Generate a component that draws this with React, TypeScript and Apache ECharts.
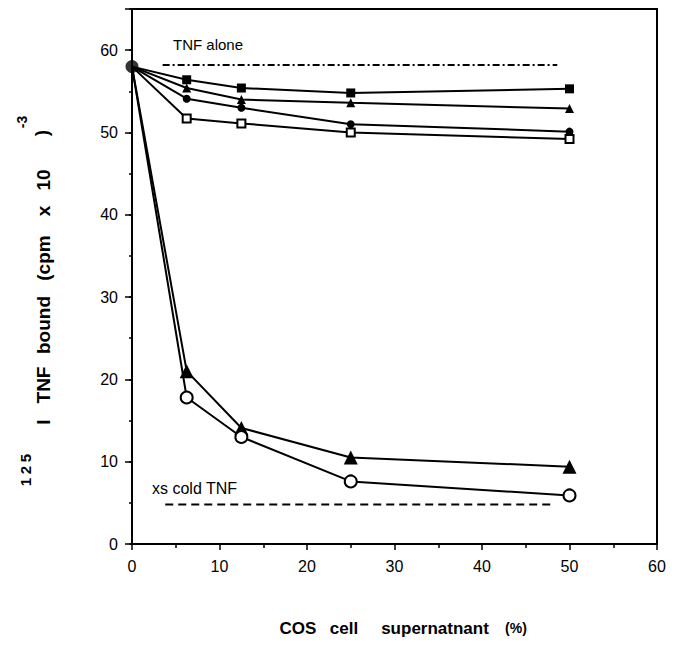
import React, { useEffect, useRef } from "react";
import * as echarts from "echarts";

const X_VALUES = [0, 6.25, 12.5, 25, 50];
const FILLED_SQUARE = [58, 56.4, 55.4, 54.8, 55.3];
const SMALL_TRIANGLE = [58, 55.4, 54.0, 53.6, 52.9];
const FILLED_CIRCLE = [58, 54.1, 53.0, 51.0, 50.1];
const OPEN_SQUARE = [58, 51.7, 51.1, 50.0, 49.2];
const BIG_TRIANGLE = [58, 21.0, 14.1, 10.5, 9.4];
const OPEN_CIRCLE = [58, 17.8, 13.0, 7.6, 5.9];
const TNF_ALONE = [[3.5, 58.2], [48.6, 58.2]];
const XS_COLD = [[3.8, 4.8], [48.2, 4.8]];
const X_TICKS = [0, 10, 20, 30, 40, 50, 60];
const Y_TICKS = [0, 10, 20, 30, 40, 50, 60];

const FONT = "'Liberation Sans', Arial, Helvetica, sans-serif";

export default function App() {
  const ref = useRef<HTMLDivElement>(null);
  useEffect(() => {
    if (!ref.current) return;
    const chart = echarts.init(ref.current, null, { renderer: "svg" });

    const mk = (ys: number[], symbol: string, size: number, open: boolean, name: string) => ({
      type: "line",
      name,
      data: X_VALUES.map((x, i) =>
        i === 0 ? { value: [x, ys[i]], symbol: "none" } : { value: [x, ys[i]] }
      ),
      symbol,
      symbolSize: size,
      showSymbol: true,
      lineStyle: { color: "#000", width: 2 },
      itemStyle: open
        ? { color: "#fff", borderColor: "#000", borderWidth: 2 }
        : { color: "#000", borderColor: "#000", borderWidth: 0 },
      z: 3,
    });

    const yWord = (text: string, cy: number, x = 43, size = 19) => ({
      type: "text",
      x,
      y: cy,
      rotation: Math.PI / 2,
      style: {
        text,
        font: `bold ${size}px ${FONT}`,
        fill: "#000",
        align: "center",
        verticalAlign: "middle",
      },
    });
    const xWord = (text: string, cx: number, size = 17) => ({
      type: "text",
      x: cx,
      y: 628,
      style: {
        text,
        font: `bold ${size}px ${FONT}`,
        fill: "#000",
        align: "center",
        verticalAlign: "middle",
      },
    });

    chart.setOption({
      animation: false,
      backgroundColor: "#fff",
      grid: {
        left: 132,
        right: 27,
        top: 9,
        bottom: 101,
        show: true,
        borderColor: "#000",
        borderWidth: 2,
      },
      xAxis: {
        type: "value",
        min: 0,
        max: 60,
        interval: 10,
        axisLine: { show: true, lineStyle: { color: "#000", width: 2 } },
        axisTick: { show: true, length: 6, lineStyle: { color: "#000", width: 1.5 } },
        minorTick: { show: true, splitNumber: 2, length: 4, lineStyle: { color: "#000", width: 1.5 } },
        splitLine: { show: false },
        axisLabel: {
          margin: 14,
          fontSize: 16,
          fontFamily: FONT,
          color: "#000",
          formatter: (v: number) => (X_TICKS.includes(v) ? String(v) : ""),
        },
      },
      yAxis: [
        {
          type: "value",
          min: 0,
          max: 65,
          interval: 10,
          axisLine: { show: true, lineStyle: { color: "#000", width: 2 } },
          axisTick: { show: true, length: 7, lineStyle: { color: "#000", width: 1.5 } },
          splitLine: { show: false },
          axisLabel: {
            margin: 14,
            fontSize: 16,
            fontFamily: FONT,
            color: "#000",
            formatter: (v: number) => (Y_TICKS.includes(v) ? String(v) : ""),
          },
        },
        {
          type: "value",
          position: "left",
          min: 0,
          max: 65,
          interval: 5,
          axisLine: { show: false },
          axisTick: { show: true, length: 3, lineStyle: { color: "#000", width: 1.5 } },
          splitLine: { show: false },
          axisLabel: { show: false },
        },
      ],
      series: [
        {
          type: "line",
          name: "TNF alone",
          data: TNF_ALONE,
          symbol: "none",
          lineStyle: { color: "#000", width: 2, type: [7, 3, 2, 3] },
          z: 2,
        },
        {
          type: "line",
          name: "xs cold TNF",
          data: XS_COLD,
          symbol: "none",
          lineStyle: { color: "#000", width: 2, type: [8, 5] },
          z: 2,
        },
        mk(FILLED_SQUARE, "rect", 9, false, "filled square"),
        mk(SMALL_TRIANGLE, "triangle", 9, false, "small triangle"),
        mk(FILLED_CIRCLE, "circle", 8, false, "filled circle"),
        mk(OPEN_SQUARE, "rect", 8, true, "open square"),
        mk(BIG_TRIANGLE, "triangle", 14, false, "big triangle"),
        mk(OPEN_CIRCLE, "circle", 12, true, "open circle"),
        {
          type: "scatter",
          name: "origin",
          data: [[X_VALUES[0], OPEN_CIRCLE[0]]],
          symbol: "circle",
          symbolSize: 13,
          itemStyle: { color: "#000" },
          z: 4,
        },
      ],
      graphic: [
        {
          type: "text",
          x: 173,
          y: 44,
          style: {
            text: "TNF alone",
            font: `15px ${FONT}`,
            fill: "#000",
            align: "left",
            verticalAlign: "middle",
          },
        },
        {
          type: "text",
          x: 152,
          y: 488,
          style: {
            text: "xs cold TNF",
            font: `16px ${FONT}`,
            fill: "#000",
            align: "left",
            verticalAlign: "middle",
          },
        },
        yWord("I", 422),
        yWord("TNF", 385),
        yWord("bound", 325),
        yWord("(cpm", 258),
        yWord("x", 211),
        yWord("10", 180),
        yWord(")", 133, 41),
        yWord("-3", 122, 22, 14),
        yWord("1", 482, 25, 15),
        yWord("2", 470, 25, 15),
        yWord("5", 458, 25, 15),
        xWord("COS", 298),
        xWord("cell", 344),
        xWord("supernatnant", 435),
        xWord("(%)", 516, 14),
      ],
    });
    return () => chart.dispose();
  }, []);
  return (
    <div
      ref={ref}
      style={{ position: "absolute", left: 0, top: 0, width: 684, height: 645 }}
    />
  );
}
